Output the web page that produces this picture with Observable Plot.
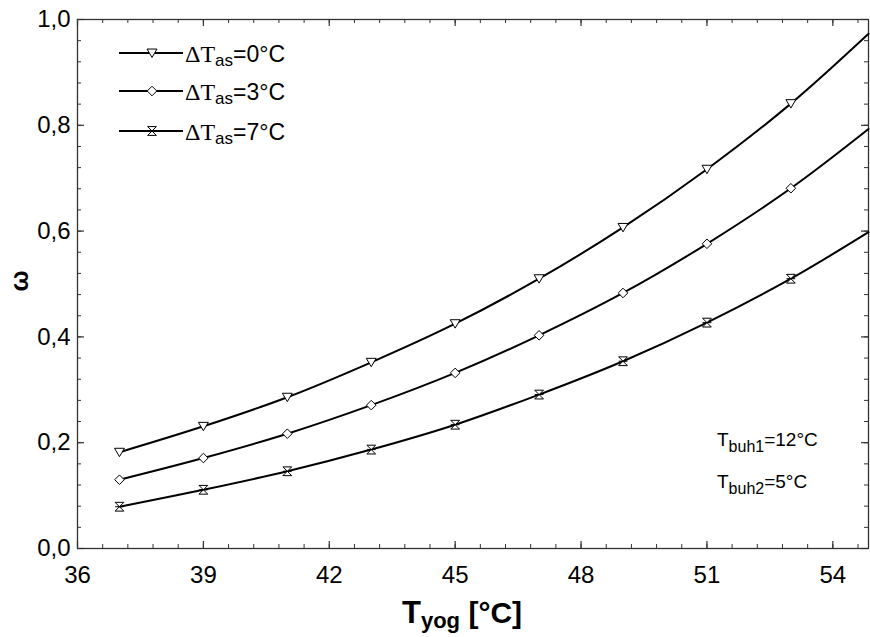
<!DOCTYPE html>
<html>
<head>
<meta charset="utf-8">
<script src="https://cdn.jsdelivr.net/npm/d3@7"></script>
<script src="https://cdn.jsdelivr.net/npm/@observablehq/plot@0.6"></script>
<style>
  html, body { margin: 0; padding: 0; background: #fff; }
  #chart { width: 870px; height: 637px; }
</style>
</head>
<body>
<div id="chart"></div>
<script>
// ---- data ----
const tYog = [37, 39, 41, 43, 45, 47, 49, 51, 53];
const xEdge = 54.85;              // curves continue to the right frame edge
const omega0 = [0.182, 0.231, 0.286, 0.352, 0.425, 0.510, 0.607, 0.717, 0.841];
const omega3 = [0.130, 0.171, 0.217, 0.271, 0.332, 0.403, 0.483, 0.576, 0.681];
const omega7 = [0.079, 0.111, 0.146, 0.187, 0.234, 0.291, 0.354, 0.427, 0.510];
const omegaEdge = [0.973, 0.793, 0.598];
const seriesNames = ["0", "3", "7"];
const xTicks = [36, 39, 42, 45, 48, 51, 54];
const yTicks = [0, 0.2, 0.4, 0.6, 0.8, 1.0];
const xMinorTicks = d3.range(36, 54.9, 0.6);
const yMinorTicks = d3.range(0, 1.001, 0.04);

// ---- layout ----
const W = 870, H = 637;
const mL = 77, mR = 2, mT = 19, mB = 89;
const FW = W - mL - mR, FH = H - mT - mB;

// custom symbols
const triDown = { draw(ctx, size) { const r = Math.sqrt(size) * 0.62;
  ctx.moveTo(-r, -r * 0.8); ctx.lineTo(r, -r * 0.8); ctx.lineTo(0, r * 0.9); ctx.closePath(); } };
const diamond = { draw(ctx, size) { const r = Math.sqrt(size) * 0.6;
  ctx.moveTo(0, -r); ctx.lineTo(r, 0); ctx.lineTo(0, r); ctx.lineTo(-r, 0); ctx.closePath(); } };
const hourglass = { draw(ctx, size) { const r = Math.sqrt(size) * 0.55;
  ctx.moveTo(-r, -r); ctx.lineTo(r, -r); ctx.lineTo(-r, r); ctx.lineTo(r, r); ctx.closePath();
  ctx.moveTo(-r, 0); ctx.lineTo(r, 0); } };
const symbols = [triDown, diamond, hourglass];

const allSeries = [omega0, omega3, omega7];
const pts = [];
const linePts = [];
allSeries.forEach((arr, s) => {
  arr.forEach((w, i) => { pts.push({x: tYog[i], w, s}); linePts.push({x: tYog[i], w, s}); });
  linePts.push({x: xEdge, w: omegaEdge[s], s});
});

function addRich(parent, x, y, parts, anchor) {
  const t = parent.append("text").attr("x", x).attr("y", y).attr("text-anchor", anchor || "start");
  parts.forEach(p => {
    const ts = t.append("tspan").text(p.t)
      .attr("font-size", p.size).attr("font-family", p.family || "'Liberation Sans', Arial, sans-serif")
      .attr("font-weight", p.weight || "normal");
    if (p.dy) ts.attr("dy", p.dy);
  });
  return t;
}

const overlay = () => {
  const g = d3.create("svg:g").attr("fill", "#000");
  // legend
  const legendY = [53, 91, 131];
  legendY.forEach((ly, i) => {
    g.append("line").attr("x1", 119).attr("x2", 183).attr("y1", ly).attr("y2", ly)
      .attr("stroke", "#000").attr("stroke-width", 2);
    g.append("path").attr("transform", `translate(152,${ly})`)
      .attr("d", d3.symbol(symbols[i], 64)()).attr("fill", "#fff").attr("stroke", "#000").attr("stroke-width", 1);
    addRich(g, 185, ly + 9, [
      {t: "ΔT", size: 24, family: "'Liberation Serif', 'Times New Roman', serif"},
      {t: "as", size: 17, dy: 4},
      {t: "=" + seriesNames[i] + "°C", size: 23, dy: -4}
    ]);
  });
  // annotations
  addRich(g, 717, 446, [
    {t: "T", size: 19}, {t: "buh1", size: 16, dy: 6}, {t: "=12°C", size: 19, dy: -6}
  ]);
  addRich(g, 717, 488, [
    {t: "T", size: 19}, {t: "buh2", size: 16, dy: 6}, {t: "=5°C", size: 19, dy: -6}
  ]);
  // axis titles
  addRich(g, 402, 623, [
    {t: "T", size: 31, weight: "bold"}, {t: "yog", size: 22, weight: "bold", dy: 5},
    {t: " [°C]", size: 30, weight: "bold", dy: -5}
  ]);
  g.append("text").attr("transform", "translate(28,281) rotate(-90)").attr("text-anchor", "middle")
    .attr("font-size", 25).attr("font-weight", "bold")
    .attr("font-family", "'Liberation Sans', Arial, sans-serif").text("ω");
  return g.node();
};

const chart = Plot.plot({
  width: W, height: H,
  marginLeft: mL, marginRight: mR, marginTop: mT, marginBottom: mB,
  x: {domain: [36, xEdge]},
  y: {domain: [0, 1]},
  style: {fontFamily: "'Liberation Sans', Arial, sans-serif", fontSize: "24px", background: "#fff", color: "#000"},
  marks: [
    Plot.frame({stroke: "#333", strokeWidth: 1.3}),
    // minor ticks (inward), bottom & top
    Plot.tickX(xMinorTicks, {x: d => d, insetTop: FH - 4, stroke: "#333", strokeWidth: 1}),
    Plot.tickX(xMinorTicks, {x: d => d, insetBottom: FH - 4, stroke: "#333", strokeWidth: 1}),
    Plot.tickX(xTicks, {x: d => d, insetTop: FH - 7, stroke: "#333", strokeWidth: 1.2}),
    Plot.tickX(xTicks, {x: d => d, insetBottom: FH - 7, stroke: "#333", strokeWidth: 1.2}),
    Plot.tickY(yMinorTicks, {y: d => d, insetRight: FW - 4, stroke: "#333", strokeWidth: 1}),
    Plot.tickY(yMinorTicks, {y: d => d, insetLeft: FW - 4, stroke: "#333", strokeWidth: 1}),
    Plot.tickY(yTicks, {y: d => d, insetRight: FW - 7, stroke: "#333", strokeWidth: 1.2}),
    Plot.tickY(yTicks, {y: d => d, insetLeft: FW - 7, stroke: "#333", strokeWidth: 1.2}),
    Plot.axisX({ticks: xTicks, tickSize: 0, tickPadding: 17, fontSize: 24, label: null, tickFormat: d => String(d)}),
    Plot.axisY({ticks: yTicks, tickSize: 0, tickPadding: 7, fontSize: 24, label: null,
      tickFormat: d => d.toFixed(1).replace(".", ",")}),
    Plot.line(linePts, {x: "x", y: "w", z: "s", stroke: "#000", strokeWidth: 2, curve: "catmull-rom"}),
    ...symbols.map((sym, s) =>
      Plot.dot(pts.filter(d => d.s === s), {x: "x", y: "w", symbol: sym, r: 4.5, fill: "#fff", stroke: "#000", strokeWidth: 1})
    ),
    overlay
  ]
});
document.getElementById("chart").appendChild(chart);
</script>
</body>
</html>
